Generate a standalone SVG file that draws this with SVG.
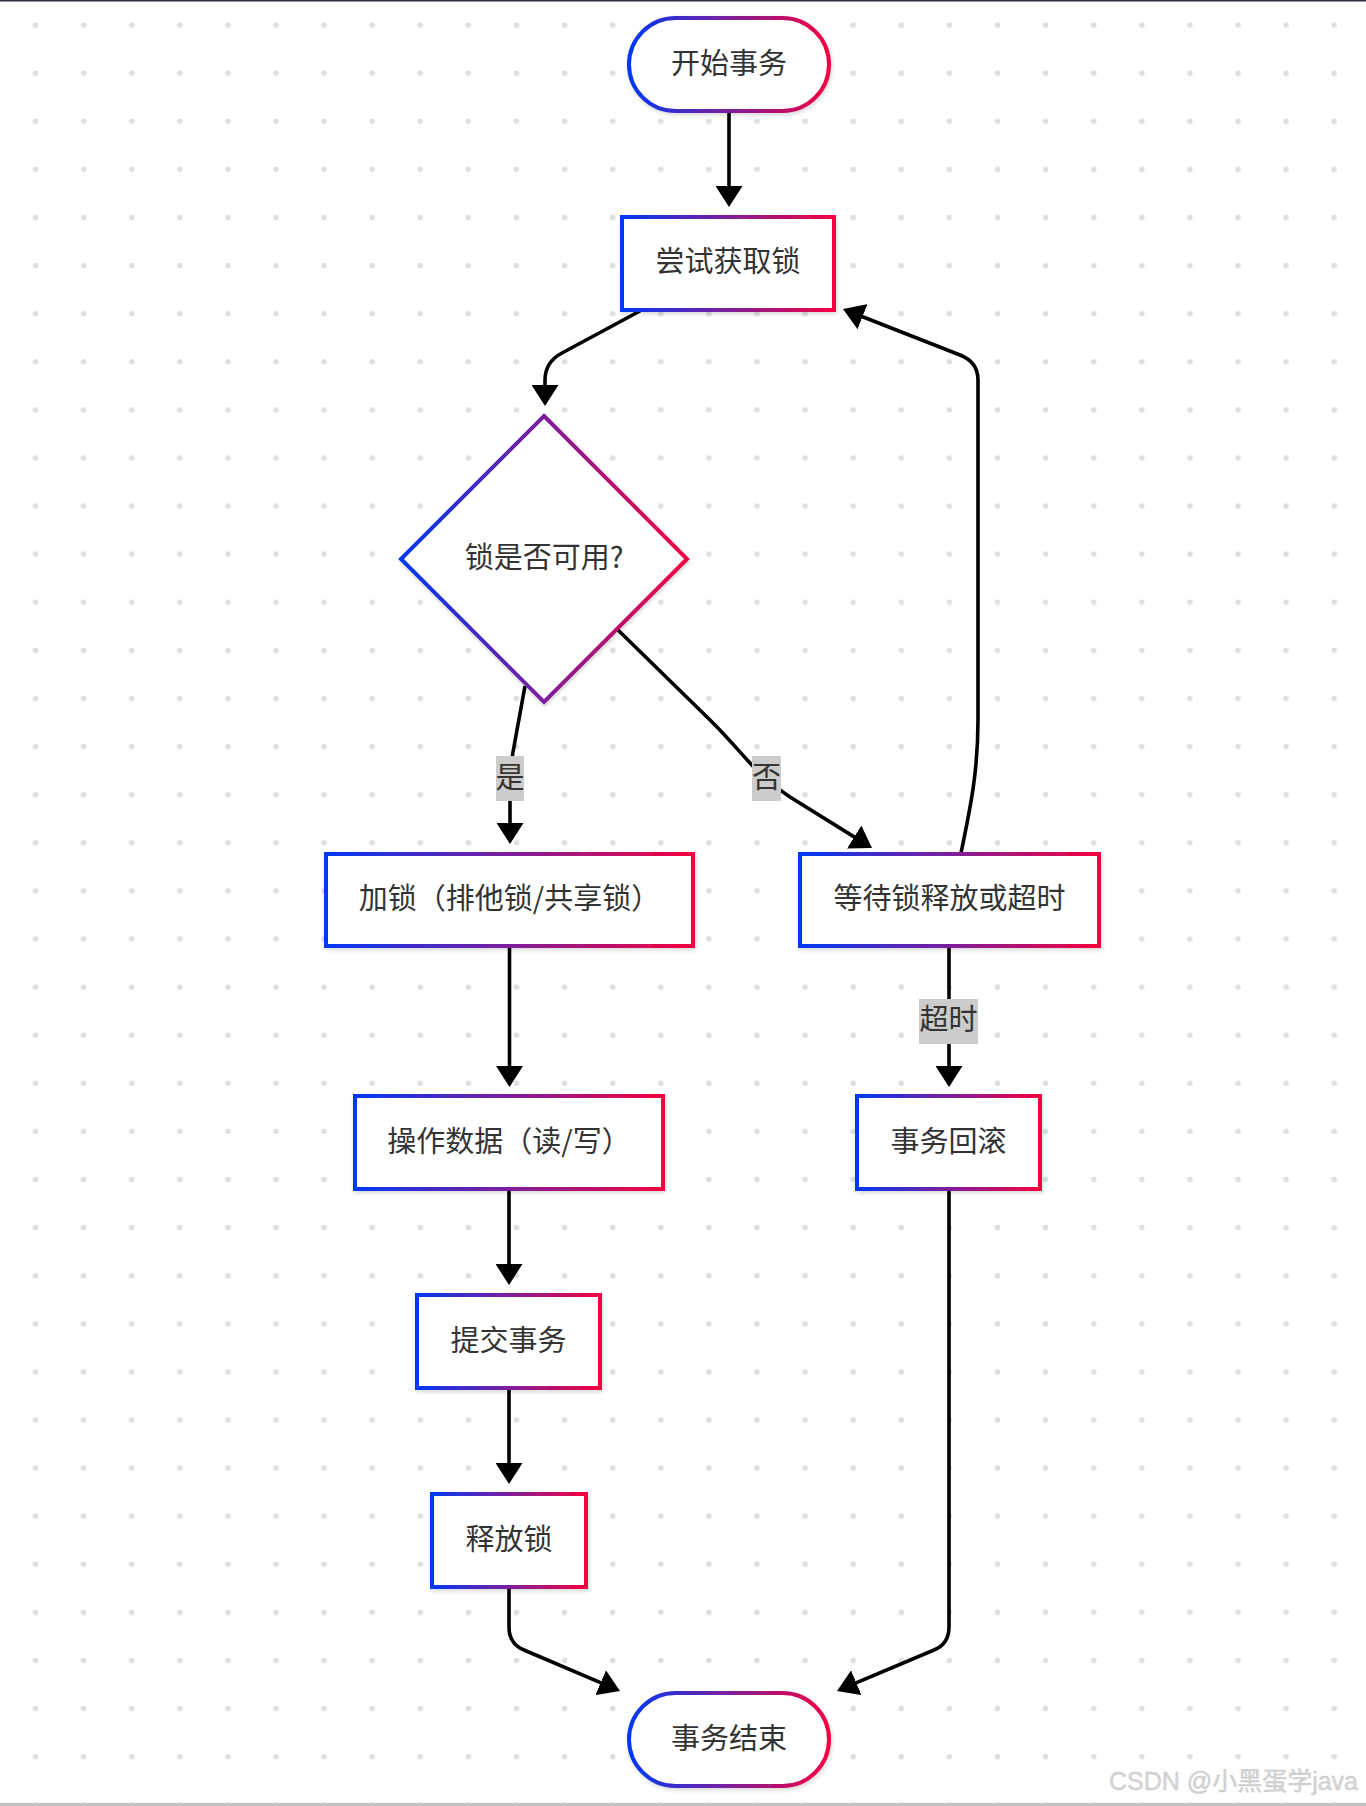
<svg xmlns="http://www.w3.org/2000/svg" width="1366" height="1806" viewBox="0 0 1366 1806">
<defs>
<pattern id="dots" x="11.45" y="0.95" width="48.1" height="48.1" patternUnits="userSpaceOnUse">
<circle cx="24.05" cy="24.05" r="2.8" fill="#dfdfe3"/>
</pattern>
<linearGradient id="grad" x1="0" y1="0" x2="1" y2="0">
<stop offset="0" stop-color="#0038f5"/>
<stop offset="0.5" stop-color="#7d1f9c"/>
<stop offset="1" stop-color="#f5003f"/>
</linearGradient>
<filter id="shadow" x="-10%" y="-10%" width="125%" height="130%">
<feDropShadow dx="1" dy="2" stdDeviation="2" flood-color="#000" flood-opacity="0.16"/>
</filter>
<marker id="arrow" markerUnits="userSpaceOnUse" viewBox="0 0 21 27" markerWidth="21" markerHeight="27" refX="17" refY="13.5" orient="auto">
<path d="M0,0 L21,13.5 L0,27 z" fill="#000"/>
</marker>
<style>
.node{fill:#fff;stroke:url(#grad);stroke-width:4;filter:url(#shadow);}
.txt{font-family:"Noto Sans CJK SC","Noto Sans",sans-serif;font-size:29px;fill:#333;text-anchor:middle;}
.edge{fill:none;stroke:#000;stroke-width:3.6;marker-end:url(#arrow);}
.lbl{fill:#cccccc;}
</style>
</defs>
<rect width="1366" height="1806" fill="#fff"/>
<rect width="1366" height="1806" fill="url(#dots)"/>
<rect x="0" y="0" width="1366" height="1.5" fill="#2f2f45"/>
<rect x="0" y="1803" width="1366" height="3" fill="#c2c2c2"/>

<g id="connectors">
<path class="edge" d="M729,113 L729,203"/>
<path class="edge" d="M640,311 L562,353 Q545,362 545,380 L545,402"/>
<path class="edge" d="M525,686 L513,752 Q510,770 510,790 L510,840"/>
<path class="edge" d="M618,630 L708,718 C745,754 752,772 790,797 L868.6,845.9"/>
<path class="edge" d="M961,853 C971,805 978,770 978,720 L978,380 Q978,362 960,355 L846.7,310.5"/>
<path class="edge" d="M509.5,948 L509.5,1083"/>
<path class="edge" d="M949,948 L949,1083"/>
<path class="edge" d="M509,1191 L509,1281"/>
<path class="edge" d="M509,1390 L509,1480"/>
<path class="edge" d="M509,1589 L509,1627 Q509,1644 524,1650 L616.3,1689.4"/>
<path class="edge" d="M949,1191 L949,1627 Q949,1644 934,1650 L840.7,1689.4"/>
<g id="label-yes">
<rect class="lbl" x="496" y="756" width="28" height="45"/>
<text class="txt" x="510" y="788">是</text>
</g>
<g id="label-no">
<rect class="lbl" x="752" y="756" width="29" height="45"/>
<text class="txt" x="766.5" y="788">否</text>
</g>
<g id="label-timeout">
<rect class="lbl" x="919" y="999" width="59" height="45"/>
<text class="txt" x="948.5" y="1030">超时</text>
</g>
</g>

<g id="start">
<rect class="node" x="629" y="18" width="200" height="93" rx="46.5" ry="46.5"/>
<text class="txt" x="729" y="74">开始事务</text>
</g>
<g id="try-lock">
<rect class="node" x="622" y="217" width="212" height="93"/>
<text class="txt" x="728" y="272">尝试获取锁</text>
</g>
<g id="lock-available">
<polygon class="node" points="544,416 687,559 544,702 401,559"/>
<text class="txt" x="544" y="568">锁是否可用?</text>
</g>
<g id="acquire-lock">
<rect class="node" x="326" y="854" width="367" height="92"/>
<text class="txt" x="509.5" y="909">加锁（排他锁/共享锁）</text>
</g>
<g id="wait-lock">
<rect class="node" x="800" y="854" width="299" height="92"/>
<text class="txt" x="949.5" y="909">等待锁释放或超时</text>
</g>
<g id="operate-data">
<rect class="node" x="355" y="1096" width="308" height="93"/>
<text class="txt" x="509" y="1152">操作数据（读/写）</text>
</g>
<g id="rollback">
<rect class="node" x="857" y="1096" width="183" height="93"/>
<text class="txt" x="948.5" y="1152">事务回滚</text>
</g>
<g id="commit">
<rect class="node" x="417" y="1295" width="183" height="93"/>
<text class="txt" x="508.5" y="1351">提交事务</text>
</g>
<g id="release-lock">
<rect class="node" x="432" y="1494" width="154" height="93"/>
<text class="txt" x="509" y="1550">释放锁</text>
</g>
<g id="end">
<rect class="node" x="629" y="1693" width="200" height="93" rx="46.5" ry="46.5"/>
<text class="txt" x="729" y="1749">事务结束</text>
</g>

<text x="1358" y="1790" font-family="Liberation Sans,Noto Sans CJK SC,sans-serif" font-size="25" fill="#d6d6d6" stroke="#c4c4c4" stroke-width="0.4" text-anchor="end">CSDN @小黑蛋学java</text>
</svg>
